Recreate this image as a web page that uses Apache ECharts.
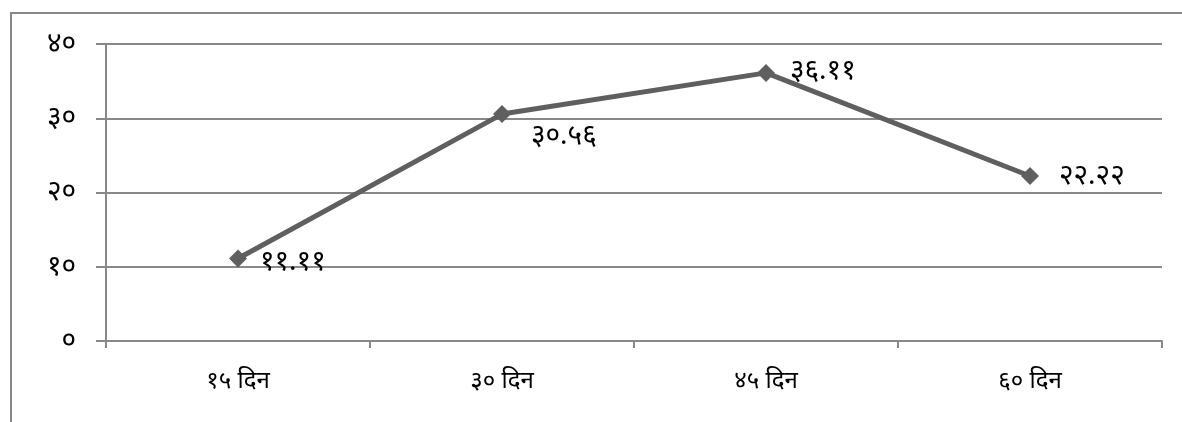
<!DOCTYPE html>
<html>
<head>
<meta charset="utf-8">
<script src="https://cdn.jsdelivr.net/npm/echarts@6/dist/echarts.min.js"></script>
<style>
  html, body { margin: 0; padding: 0; background: #fff; }
  #chart { width: 1182px; height: 422px; }
</style>
</head>
<body>
<div id="chart"></div>
<script>
// Days after treatment and the measured percentage
const categories = ['१५ दिन', '३० दिन', '४५ दिन', '६० दिन'];
const values = [11.11, 30.56, 36.11, 22.22];
const yTicks = { min: 0, max: 40, interval: 10 };

const DEVA = ['०', '१', '२', '३', '४', '५', '६', '७', '८', '९'];
function toDeva(v) {
  return String(v).replace(/[0-9]/g, d => DEVA[+d]);
}

const FONT = '"Noto Sans", "Noto Sans Devanagari", "Lohit Devanagari", "Mangal", sans-serif';

// per-point label placement around the markers
const labelOffsets = [[1, 4], [8, 22], [3, -2], [8, 0]];

const chart = echarts.init(document.getElementById('chart'), null, { renderer: 'canvas' });

chart.setOption({
  animation: false,
  backgroundColor: '#fff',
  grid: { left: 106, right: 20, top: 44, bottom: 81, containLabel: false },
  graphic: [
    { type: 'line', shape: { x1: 11, y1: 12, x2: 11, y2: 422 }, style: { stroke: '#888', lineWidth: 2 } },
    { type: 'line', shape: { x1: 10, y1: 13, x2: 1182, y2: 13 }, style: { stroke: '#888', lineWidth: 2 } }
  ],
  xAxis: {
    type: 'category',
    data: categories,
    boundaryGap: true,
    axisLine: { lineStyle: { color: '#888', width: 2 } },
    axisTick: { show: true, length: 7, lineStyle: { color: '#888', width: 2 } },
    axisLabel: { color: '#000', fontSize: 24, fontFamily: FONT, margin: 28 },
    splitLine: { show: false }
  },
  yAxis: {
    type: 'value',
    min: yTicks.min,
    max: yTicks.max,
    interval: yTicks.interval,
    axisLine: { show: true, lineStyle: { color: '#888', width: 2 } },
    axisTick: { show: true, length: 10, lineStyle: { color: '#888', width: 2 } },
    axisLabel: { color: '#000', fontSize: 28, fontFamily: FONT, margin: 30, formatter: v => toDeva(v) },
    splitLine: { show: true, lineStyle: { color: '#888', width: 2 } }
  },
  series: [{
    type: 'line',
    data: values.map((v, i) => ({
      value: v,
      label: { offset: labelOffsets[i] }
    })),
    symbol: 'diamond',
    symbolSize: 18,
    lineStyle: { color: '#5f5f5f', width: 5 },
    itemStyle: { color: '#5f5f5f' },
    label: {
      show: true,
      position: 'right',
      distance: 12,
      color: '#000',
      fontSize: 28,
      fontFamily: FONT,
      formatter: p => toDeva(p.value.toFixed(2))
    }
  }]
});
</script>
</body>
</html>
